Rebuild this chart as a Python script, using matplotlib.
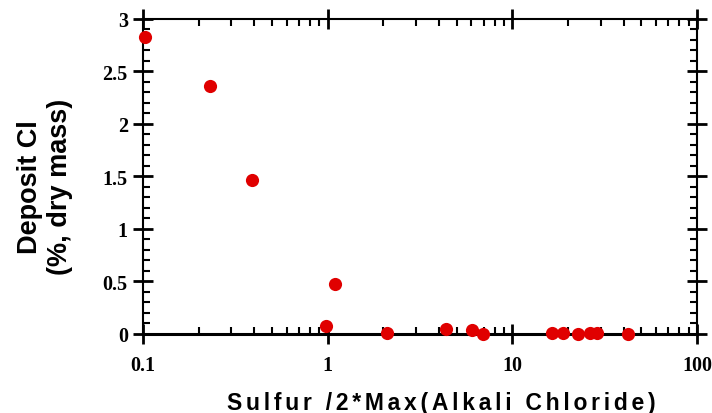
import matplotlib
matplotlib.use("Agg")
import matplotlib.pyplot as plt
from matplotlib.ticker import FixedLocator, FixedFormatter, LogLocator, MultipleLocator, NullFormatter

# ratio of sulfur to 2*max(alkali chloride) vs deposit Cl
ratio = [0.103, 0.229, 0.389, 1.094, 0.975, 2.09, 4.38, 6.03, 6.96,
         16.3, 18.8, 22.6, 26.4, 28.8, 42.2]
cl_pct = [2.83, 2.365, 1.47, 0.48, 0.076, 0.005, 0.045, 0.04, 0.0,
          0.005, 0.005, 0.0, 0.005, 0.005, 0.0]

xticks = [0.1, 1, 10, 100]
xticklabels = ["0.1", "1", "10", "100"]
yticks = [0, 0.5, 1, 1.5, 2, 2.5, 3]
yticklabels = ["0", "0.5", "1", "1.5", "2", "2.5", "3"]

RED = "#e00000"
LABFONT = dict(family=["Liberation Sans", "DejaVu Sans"], weight="bold")

fig = plt.figure(figsize=(7.12, 4.14), dpi=100)
ax = fig.add_axes([0.201, 0.191, 0.778, 0.761])

ax.scatter(ratio, cl_pct, s=90, color=RED, zorder=5, clip_on=False, linewidths=0)

ax.set_xscale("log")
ax.set_xlim(0.1, 100)
ax.set_ylim(0, 3)

ax.xaxis.set_major_locator(FixedLocator(xticks))
ax.xaxis.set_major_formatter(FixedFormatter(xticklabels))
ax.xaxis.set_minor_locator(LogLocator(base=10, subs=range(2, 10)))
ax.xaxis.set_minor_formatter(NullFormatter())
ax.yaxis.set_major_locator(FixedLocator(yticks))
ax.yaxis.set_major_formatter(FixedFormatter(yticklabels))
ax.yaxis.set_minor_locator(MultipleLocator(0.1))

for sp in ax.spines.values():
    sp.set_linewidth(1.5)
ax.spines["bottom"].set_linewidth(2.2)

ax.tick_params(which="major", direction="inout", length=14, width=2,
               top=True, right=True, pad=4)
ax.tick_params(axis="x", which="major", pad=8)
ax.tick_params(which="minor", direction="in", length=5, width=1.5,
               top=True, right=True)
for lab in ax.get_xticklabels() + ax.get_yticklabels():
    lab.set_fontfamily("Liberation Serif")
    lab.set_fontweight("bold")
    lab.set_fontsize(14.5)

# letter-spaced x label
SP = "\u2006"
xlab = SP.join("Sulfur /2*Max(Alkali Chloride)")
ax.set_xlabel(xlab, fontsize=16.5, labelpad=12, x=0.538, **LABFONT)
ax.set_ylabel("Deposit Cl\n(%, dry mass)", fontsize=19.5, labelpad=21,
              linespacing=1.2, y=0.47, **LABFONT)

fig.savefig("out.png", dpi=100, facecolor="white")
